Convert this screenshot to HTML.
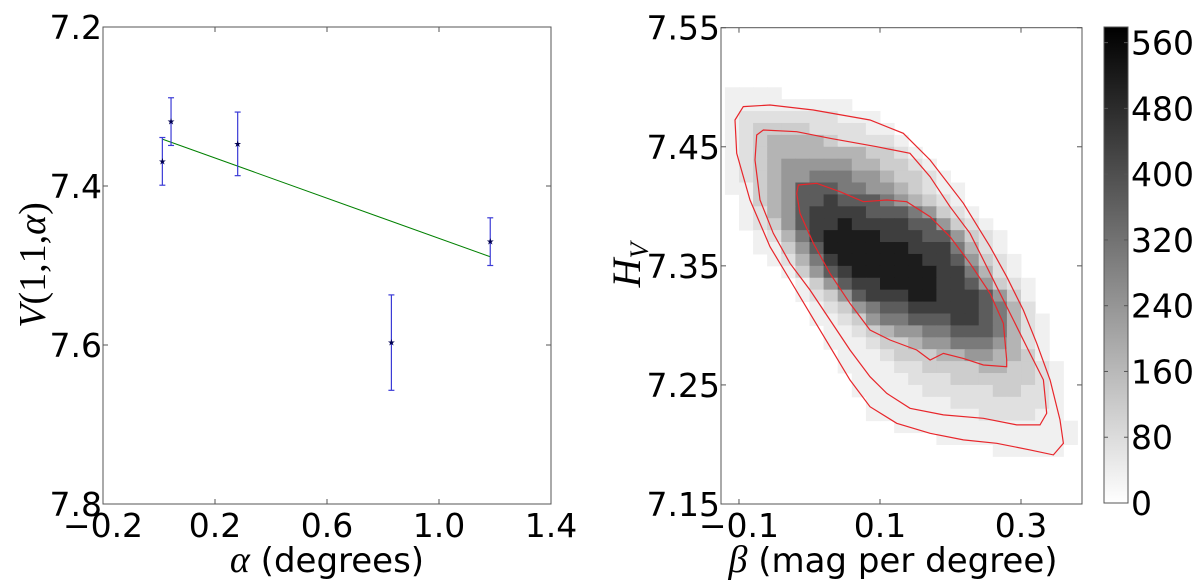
<!DOCTYPE html>
<html><head><meta charset="utf-8"><style>
html,body{margin:0;padding:0;background:#fff;}
svg{display:block;font-family:"DejaVu Sans","Liberation Sans",sans-serif;}
</style></head><body>
<svg id="fig" width="1200" height="582" viewBox="0 0 1200 582" xmlns="http://www.w3.org/2000/svg"></svg>
<script>
// ---------- Left chart data ----------
const alphaVals = [0.012, 0.043, 0.281, 0.830, 1.183];
const magVals = [7.369, 7.319, 7.347, 7.597, 7.470];
const magErr = [0.03, 0.03, 0.04, 0.06, 0.03];
const fitAlpha = [0.012, 1.183];
const fitMag = [7.341, 7.489];
const leftXTicks = [-0.2, 0.2, 0.6, 1.0, 1.4];
const leftXTickLabels = ["\u22120.2", "0.2", "0.6", "1.0", "1.4"];
const leftYTicks = [7.2, 7.4, 7.6, 7.8];
const leftYTickLabels = ["7.2", "7.4", "7.6", "7.8"];
// ---------- Right chart data ----------
const histBeta0 = -0.12, histDBeta = 0.02, histH0 = 7.50, histDH = 0.01;
const histRows = [
"1111",
"111111111",
"12222222111",
"123333222211",
"1234444322221",
"12344444443321",
"123455555443321",
"1234556665543321",
"11345777665543211",
"01345778777654321",
"012457888877765321",
"0123578898888775321",
"00124689999888775321",
"00113579999998886421",
"000124689999998875321",
"000013578999999886421",
"0000013578899998875321",
"0000012357888998887531",
"0000001235677888887642",
"00000011235667778876421",
"00000001123455667776421",
"00000001112334556665421",
"00000000111233344554431",
"000000001111223333443321",
"000000000111122233333321",
"000000000111112222233221",
"000000000011111122222221",
"000000000011111111222211",
"0000000000001111111111111",
"0000000000000001111111111",
"000000000000000000011111"
];
const levelGray = [255, 240, 224, 205, 180, 152, 122, 92, 62, 28];
const outerBeta = [-0.1057,-0.0939,-0.056,0.0054,0.0858,0.1331,0.1710,0.2183,0.2561,0.2797,0.3033,0.3222,0.3412,0.3553,0.3601,0.3459,0.3128,0.2655,0.2183,0.1710,0.1237,0.0858,0.0575,0.0291,0.0007,-0.0276,-0.056,-0.0844,-0.1032];
const outerH = [7.4725,7.4837,7.4851,7.4809,7.4725,7.4613,7.4389,7.4025,7.3661,7.3409,7.3129,7.2850,7.2541,7.2206,7.2010,7.1912,7.1954,7.2010,7.2038,7.2094,7.2178,7.2317,7.2541,7.2821,7.3101,7.3381,7.3661,7.4053,7.4445];
const midBeta = [-0.0749,-0.0655,-0.0182,0.0291,0.0953,0.1426,0.1710,0.1993,0.2277,0.2466,0.2655,0.2892,0.3128,0.3317,0.3364,0.3270,0.2939,0.2466,0.1899,0.1426,0.1095,0.0858,0.0575,0.0291,0.0007,-0.0276,-0.0513,-0.0702,-0.0773];
const midH = [7.4599,7.4641,7.4627,7.4571,7.4501,7.4445,7.4249,7.3997,7.3773,7.3549,7.3325,7.3045,7.2765,7.2542,7.2262,7.2164,7.2164,7.2220,7.2248,7.2304,7.2430,7.2569,7.2793,7.3045,7.3297,7.3521,7.3773,7.4053,7.4389];
const innerBeta = [-0.0158,0.0102,0.0433,0.0764,0.1095,0.1379,0.1710,0.1993,0.2277,0.2561,0.2750,0.2797,0.2797,0.2466,0.2182,0.1899,0.1710,0.1520,0.1142,0.0858,0.0575,0.0291,0.0055,-0.0134,-0.0182];
const innerH = [7.4179,7.4193,7.4123,7.4039,7.4053,7.4039,7.3913,7.3745,7.3521,7.3269,7.3017,7.2709,7.2653,7.2667,7.2723,7.2765,7.2709,7.2793,7.2877,7.2961,7.3185,7.3437,7.3689,7.3941,7.4109];
const rightXTicks = [-0.1, 0.1, 0.3];
const rightXTickLabels = ["\u22120.1", "0.1", "0.3"];
const rightYTicks = [7.55, 7.45, 7.35, 7.25, 7.15];
const rightYTickLabels = ["7.55", "7.45", "7.35", "7.25", "7.15"];
const cbarTicks = [0, 80, 160, 240, 320, 400, 480, 560];
const cbarTickLabels = ["0","80","160","240","320","400","480","560"];
const cbarMax = 579;

const NS = "http://www.w3.org/2000/svg";
const svg = document.getElementById("fig");
function mk(tag, attrs, parent) {
  const e = document.createElementNS(NS, tag);
  for (const k in attrs) e.setAttribute(k, attrs[k]);
  (parent || svg).appendChild(e);
  return e;
}
const L = {x0:103, x1:551, y0:27, y1:504, xmin:-0.2, xmax:1.4, ymin:7.2, ymax:7.8};
const lx = v => L.x0 + (v - L.xmin) / (L.xmax - L.xmin) * (L.x1 - L.x0);
const ly = v => L.y0 + (v - L.ymin) / (L.ymax - L.ymin) * (L.y1 - L.y0);
const R = {x0:721, x1:1082, y0:27.7, y1:504, xmin:-0.1255, xmax:0.3865, ymin:7.15, ymax:7.55};
const rx = v => R.x0 + (v - R.xmin) / (R.xmax - R.xmin) * (R.x1 - R.x0);
const ry = v => R.y1 - (v - R.ymin) / (R.ymax - R.ymin) * (R.y1 - R.y0);

// ===== Left chart =====
const gL = mk("g", {});


const fit = mk("line", {x1:lx(fitAlpha[0]), y1:ly(fitMag[0]), x2:lx(fitAlpha[1]), y2:ly(fitMag[1]), stroke:"#008000", "stroke-width":1}, gL);


alphaVals.forEach((a, i) => {
  const g = mk("g", {}, gL);
  
  
  const x = lx(a), yt = ly(magVals[i] - magErr[i]), yb = ly(magVals[i] + magErr[i]);
  mk("line", {x1:x, y1:yt, x2:x, y2:yb, stroke:"#3b3bd6", "stroke-width":1.2}, g);
  mk("line", {x1:x-3, y1:yt, x2:x+3, y2:yt, stroke:"#3b3bd6", "stroke-width":1.2}, g);
  mk("line", {x1:x-3, y1:yb, x2:x+3, y2:yb, stroke:"#3b3bd6", "stroke-width":1.2}, g);
  mk("text", {x:x, y:ly(magVals[i]) + 3, "text-anchor":"middle", "font-size":9, fill:"#000050"}, g).textContent = "\u2605";
});
const fL = mk("rect", {x:L.x0, y:L.y0, width:L.x1-L.x0, height:L.y1-L.y0, fill:"none", stroke:"#555", "stroke-width":1}, gL);


leftXTicks.forEach((t, i) => {
  const x = lx(t);
  mk("line", {x1:x, y1:L.y1, x2:x, y2:L.y1-5, stroke:"#555"}, gL);
  mk("line", {x1:x, y1:L.y0, x2:x, y2:L.y0+5, stroke:"#555"}, gL);
  const tx = mk("text", {x:x, y:537, "text-anchor":"middle", "font-size":33}, gL);
  tx.textContent = leftXTickLabels[i];
  
  
});
leftYTicks.forEach((t, i) => {
  const y = ly(t);
  mk("line", {x1:L.x0, y1:y, x2:L.x0+5, y2:y, stroke:"#555"}, gL);
  mk("line", {x1:L.x1, y1:y, x2:L.x1-5, y2:y, stroke:"#555"}, gL);
  const tx = mk("text", {x:L.x0-1, y:y+12, "text-anchor":"end", "font-size":33}, gL);
  tx.textContent = leftYTickLabels[i];
  
  
});
const xtl = mk("text", {x:327, y:572, "text-anchor":"middle", "font-size":34}, gL);
xtl.innerHTML = '<tspan font-family="Liberation Serif, serif" font-style="italic" font-size="38">\u03b1</tspan> (degrees)';


const ytl = mk("text", {x:0, y:0, transform:"translate(45,265) rotate(-90)", "text-anchor":"middle", "font-size":38, "font-family":"Liberation Serif, serif"}, gL);
ytl.innerHTML = '<tspan font-style="italic">V</tspan>(1,1,<tspan font-style="italic">\u03b1</tspan>)';



// ===== Right chart =====
const gR = mk("g", {});


const gH = mk("g", {}, gR);


histRows.forEach((row, r) => {
  const hTop = histH0 - r * histDH, hBot = hTop - histDH;
  for (let c = 0; c < row.length; c++) {
    const v = +row[c];
    if (!v) continue;
    const b0 = histBeta0 + c * histDBeta, b1 = b0 + histDBeta;
    const xa = Math.max(rx(b0), R.x0), xb = Math.min(rx(b1), R.x1);
    if (xb <= xa) continue;
    const g = levelGray[v];
    const cell = mk("rect", {x:xa, y:ry(hTop), width:xb-xa+0.5, height:ry(hBot)-ry(hTop)+0.5, fill:`rgb(${g},${g},${g})`}, gH);
    
    
  }
});
function contour(bs, hs, name) {
  const d = bs.map((b, i) => (i ? "L" : "M") + rx(b).toFixed(1) + "," + ry(hs[i]).toFixed(1)).join(" ") + " Z";
  const p = mk("path", {d:d, fill:"none", stroke:"#e8262b", "stroke-width":1.2}, gR);
  
  
}
contour(outerBeta, outerH, 'contour-outer');
contour(midBeta, midH, 'contour-middle');
contour(innerBeta, innerH, 'contour-inner');
const fR = mk("rect", {x:R.x0, y:R.y0, width:R.x1-R.x0, height:R.y1-R.y0, fill:"none", stroke:"#555", "stroke-width":1}, gR);


rightXTicks.forEach((t, i) => {
  const x = rx(t);
  mk("line", {x1:x, y1:R.y1, x2:x, y2:R.y1-5, stroke:"#555"}, gR);
  mk("line", {x1:x, y1:R.y0, x2:x, y2:R.y0+5, stroke:"#555"}, gR);
  const tx = mk("text", {x:x, y:537, "text-anchor":"middle", "font-size":33}, gR);
  tx.textContent = rightXTickLabels[i];
  
  
});
rightYTicks.forEach((t, i) => {
  const y = ry(t);
  mk("line", {x1:R.x0, y1:y, x2:R.x0+5, y2:y, stroke:"#555"}, gR);
  mk("line", {x1:R.x1, y1:y, x2:R.x1-5, y2:y, stroke:"#555"}, gR);
  const tx = mk("text", {x:R.x0-1, y:y+12, "text-anchor":"end", "font-size":33}, gR);
  tx.textContent = rightYTickLabels[i];
  
  
});
const xtr = mk("text", {x:893, y:572, "text-anchor":"middle", "font-size":34}, gR);
xtr.innerHTML = '<tspan font-family="Liberation Serif, serif" font-style="italic" font-size="38">\u03b2</tspan> (mag per degree)';


const ytr = mk("text", {x:0, y:0, transform:"translate(640,265) rotate(-90)", "text-anchor":"middle", "font-size":40, "font-family":"Liberation Serif, serif", "font-style":"italic"}, gR);
ytr.innerHTML = 'H<tspan font-size="26" dy="8">V</tspan>';



// ===== Colorbar =====
const C = {x0:1104, x1:1128, y0:27, y1:503};
const cy = v => C.y1 - v / cbarMax * (C.y1 - C.y0);
const defs = mk("defs", {});
const lg = mk("linearGradient", {id:"cbg", x1:0, y1:1, x2:0, y2:0}, defs);
mk("stop", {offset:"0", "stop-color":"#ffffff"}, lg);
mk("stop", {offset:"1", "stop-color":"#000000"}, lg);
const gC = mk("g", {});


mk("rect", {x:C.x0, y:C.y0, width:C.x1-C.x0, height:C.y1-C.y0, fill:"url(#cbg)", stroke:"#555", "stroke-width":1}, gC);
cbarTicks.forEach((t, i) => {
  const y = cy(t);
  mk("line", {x1:C.x1, y1:y, x2:C.x1-4, y2:y, stroke:"#555"}, gC);
  mk("line", {x1:C.x0, y1:y, x2:C.x0+4, y2:y, stroke:"#555"}, gC);
  const tx = mk("text", {x:C.x1+3, y:y+12, "font-size":33}, gC);
  tx.textContent = cbarTickLabels[i];
  
  
});
</script>
</body></html>
